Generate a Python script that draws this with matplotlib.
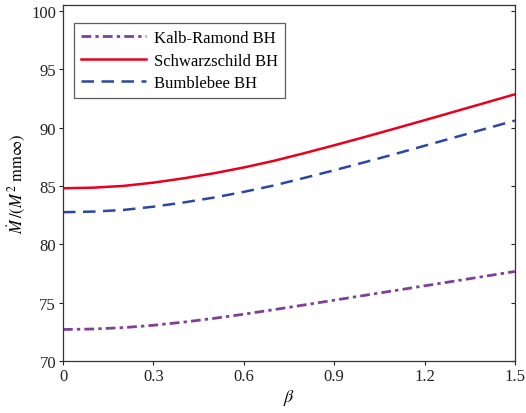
import matplotlib
matplotlib.use("Agg")
import matplotlib.pyplot as plt
import matplotlib.lines as mlines

plt.rcParams['font.family'] = ['Liberation Serif', 'DejaVu Serif']
plt.rcParams['mathtext.fontset'] = 'stix'

beta = [0.0, 0.1, 0.2, 0.3, 0.4, 0.5, 0.6, 0.7, 0.8, 0.9, 1.0, 1.1, 1.2, 1.3, 1.4, 1.5]
kalb_ramond = [72.70, 72.74, 72.86, 73.06, 73.33, 73.65, 74.01, 74.40, 74.80, 75.21,
               75.62, 76.03, 76.44, 76.85, 77.26, 77.67]
schwarzschild = [84.80, 84.85, 85.00, 85.28, 85.65, 86.08, 86.58, 87.15, 87.80, 88.48,
                 89.18, 89.90, 90.63, 91.37, 92.11, 92.85]
bumblebee = [82.75, 82.80, 82.94, 83.22, 83.58, 84.00, 84.49, 85.04, 85.68, 86.34,
             87.02, 87.72, 88.44, 89.16, 89.88, 90.60]

xticks = [0, 0.3, 0.6, 0.9, 1.2, 1.5]
xticklabels = ['0', '0.3', '0.6', '0.9', '1.2', '1.5']
yticks = [70, 75, 80, 85, 90, 95, 100]

fig = plt.figure(figsize=(5.26, 4.14), dpi=100)
ax = fig.add_axes([0.1198, 0.1256, 0.979 - 0.1198, 0.9855 - 0.1256])

ax.plot(beta, kalb_ramond, color='#7E3F98', lw=2.0, ls=(0, (3.5, 1.5, 1.2, 1.5)), label='Kalb-Ramond BH')
ax.plot(beta, schwarzschild, color='#E8001C', lw=1.8, ls='-', label='Schwarzschild BH')
ax.plot(beta, bumblebee, color='#2C47A0', lw=1.8, ls=(0, (5, 3)), label='Bumblebee BH')

ax.set_xlim(0, 1.5)
ax.set_ylim(70, 100.5)
ax.set_xticks(xticks)
ax.set_xticklabels(xticklabels)
ax.set_yticks(yticks)

ax.tick_params(axis='both', which='both', direction='out', length=3, width=0.8,
               labelsize=12, colors='#222222', pad=2)
ax.tick_params(axis='y', right=True, labelright=False)
for t in ax.yaxis.get_ticklines()[1::2]:
    t.set_marker(mlines.TICKLEFT)
for sp in ax.spines.values():
    sp.set_linewidth(0.9)
    sp.set_color('#333333')

ax.set_xlabel(r'$\beta$', fontsize=13, labelpad=2)
ax.set_ylabel(r'$\dot{M}\,/(M^2\ \mathrm{mm}\infty)$', fontsize=12, labelpad=3)

leg = ax.legend(loc='upper left', bbox_to_anchor=(0.024, 0.95), fontsize=12,
                frameon=True, fancybox=False, edgecolor='#333333',
                handlelength=3.9, handletextpad=0.45, borderpad=0.45, labelspacing=0.38,
                borderaxespad=0)
leg.get_frame().set_linewidth(0.9)

fig.savefig('out.png', dpi=100)
